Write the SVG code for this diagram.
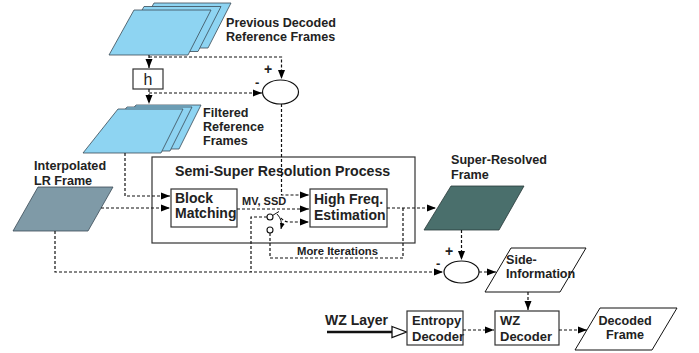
<svg xmlns="http://www.w3.org/2000/svg" width="699" height="353" viewBox="0 0 699 353">
<defs>
<marker id="arr" markerUnits="userSpaceOnUse" markerWidth="10" markerHeight="8" refX="9" refY="4" orient="auto">
<path d="M0,0.5 L9,4 L0,7.5 z" fill="#000"/>
</marker>
<marker id="arrs" markerUnits="userSpaceOnUse" markerWidth="7" markerHeight="6" refX="6" refY="3" orient="auto">
<path d="M0,0.5 L6,3 L0,5.5 z" fill="#000"/>
</marker>
</defs>
<style>
text{font-family:"Liberation Sans",Arial,sans-serif;font-weight:bold;fill:#222}
.lbl{font-size:12.6px}
.box{fill:#fff;stroke:#333;stroke-width:1.2}
.bl{font-size:14px}
.fr{fill:#8ed4f2;stroke:#3a4a55;stroke-width:0.8}
.dash{fill:none;stroke:#111;stroke-width:1.2;stroke-dasharray:3,2}
.ell{fill:#fff;stroke:#111;stroke-width:1.2}
</style>
<rect width="699" height="353" fill="#fff"/>

<g id="previous-frames">
<polygon class="fr" points="154,3 231,3 208,48 129,48"/>
<polygon class="fr" points="144,6.5 221,6.5 198,51.5 119,51.5"/>
<polygon class="fr" points="134,10 211,10 188,55 109,55"/>
<text class="lbl" x="226" y="27">Previous Decoded</text>
<text class="lbl" x="226" y="41">Reference Frames</text>
</g>

<g id="h-filter">
<rect class="box" x="133" y="69" width="30" height="20"/>
<text x="148" y="85" text-anchor="middle" style="font-weight:normal;font-size:16px">h</text>
</g>

<g id="diff-top">
<ellipse class="ell" cx="280.5" cy="92" rx="18" ry="12"/>
<text x="264" y="74" style="font-size:14px">+</text>
<text x="255" y="87" style="font-size:13px">-</text>
</g>

<g id="filtered-frames">
<polygon class="fr" points="136,105 201,105 179,149 101,149"/>
<polygon class="fr" points="127,107 192,107 170,151 92,151"/>
<polygon class="fr" points="118,109 183,109 161,153 83,153"/>
<text class="lbl" x="203" y="117">Filtered</text>
<text class="lbl" x="203" y="131">Reference</text>
<text class="lbl" x="203" y="145">Frames</text>
</g>

<g id="interpolated-frame">
<polygon points="38,187 113,187 88,231 13,231" fill="#7f9aa7" stroke="#3a4a55" stroke-width="0.8"/>
<text class="lbl" x="34" y="170">Interpolated</text>
<text class="lbl" x="34" y="184.5">LR Frame</text>
</g>

<g id="semi-super-resolution">
<rect x="152" y="157" width="263" height="86" fill="none" stroke="#333" stroke-width="1.2"/>
<text x="175" y="176" style="font-size:14.2px">Semi-Super Resolution Process</text>
</g>

<g id="block-matching">
<rect class="box" x="171" y="189" width="66" height="38"/>
<text class="bl" x="175" y="203">Block</text>
<text class="bl" x="175" y="218">Matching</text>
</g>

<g id="high-freq">
<rect class="box" x="310" y="189" width="77" height="38"/>
<text class="bl" x="314" y="204">High Freq.</text>
<text class="bl" x="314" y="220">Estimation</text>
</g>

<g id="switch">
<circle cx="270" cy="217" r="3" fill="#fff" stroke="#111" stroke-width="1.1"/>
<circle cx="270" cy="230" r="3" fill="#fff" stroke="#111" stroke-width="1.1"/>
<line x1="272.5" y1="215.5" x2="279" y2="211.5" stroke="#111" stroke-width="1"/>
<path d="M277,214 Q283,220 281,229" fill="none" stroke="#111" stroke-width="1" marker-end="url(#arrs)"/>
</g>

<g id="super-resolved-frame">
<polygon points="451,186 524,186 499,230 424,230" fill="#4a6f6c" stroke="#2a3a3a" stroke-width="0.8"/>
<text class="lbl" x="451" y="164">Super-Resolved</text>
<text class="lbl" x="451" y="178.5">Frame</text>
</g>

<g id="diff-bottom">
<ellipse class="ell" cx="461.5" cy="272" rx="17.5" ry="11"/>
<text x="445" y="256" style="font-size:14px">+</text>
<text x="436" y="268" style="font-size:13px">-</text>
</g>

<g id="side-information">
<polygon points="511,248 586,248 560,292 485,292" fill="#fff" stroke="#111" stroke-width="1"/>
<text class="lbl" x="506" y="264">Side-</text>
<text class="lbl" x="506" y="278">Information</text>
</g>

<g id="wz-layer">
<text x="325" y="325" style="font-size:14px">WZ Layer</text>
<line x1="327" y1="332" x2="393" y2="332" stroke="#111" stroke-width="2.6"/>
<polygon points="392,326.5 406.5,332 392,337.5" fill="#fff" stroke="#111" stroke-width="1.3"/>
</g>

<g id="entropy-decoder">
<rect class="box" x="407" y="311" width="56" height="34"/>
<text x="412" y="325" style="font-size:13px">Entropy</text>
<text x="412" y="341" style="font-size:13px">Decoder</text>
</g>

<g id="wz-decoder">
<rect class="box" x="495" y="311" width="64" height="34"/>
<text x="500" y="325" style="font-size:13px">WZ</text>
<text x="500" y="341" style="font-size:13px">Decoder</text>
</g>

<g id="decoded-frame">
<polygon points="600,308 677,308 652,350 575,350" fill="#fff" stroke="#111" stroke-width="1"/>
<text class="lbl" x="625" y="325" text-anchor="middle">Decoded</text>
<text class="lbl" x="625" y="339" text-anchor="middle">Frame</text>
</g>

<g id="connectors">
<path class="dash" d="M149,55 V68" marker-end="url(#arr)"/>
<path class="dash" d="M149,57 H281.5 V79" marker-end="url(#arr)"/>
<path class="dash" d="M149,89 V104" marker-end="url(#arr)"/>
<path class="dash" d="M149,93 H262" marker-end="url(#arr)"/>
<path class="dash" d="M125,153 V196 H170" marker-end="url(#arr)"/>
<path class="dash" d="M101,208 H170" marker-end="url(#arr)"/>
<path class="dash" d="M237,209 H309" marker-end="url(#arr)"/>
<path class="dash" d="M281.5,104 V195 H309" marker-end="url(#arr)"/>
<path class="dash" d="M281,218 Q284,222 290,222 H309" marker-end="url(#arr)"/>
<path class="dash" d="M267,217 H251 V272"/>
<path class="dash" d="M270,233 V258 H403 V208"/>
<path class="dash" d="M387,208 H436" marker-end="url(#arr)"/>
<path class="dash" d="M55,231 V272 H443" marker-end="url(#arr)"/>
<path class="dash" d="M461.5,230 V260" marker-end="url(#arr)"/>
<path class="dash" d="M479,272 H496" marker-end="url(#arr)"/>
<path class="dash" d="M528,292 V310" marker-end="url(#arr)"/>
<path class="dash" d="M463,330 H494" marker-end="url(#arr)"/>
<path class="dash" d="M559,330 H587" marker-end="url(#arr)"/>
<text x="297" y="255" style="font-size:11.3px">More Iterations</text>
<text x="242" y="205" style="font-size:11px">MV, SSD</text>
</g>
</svg>
